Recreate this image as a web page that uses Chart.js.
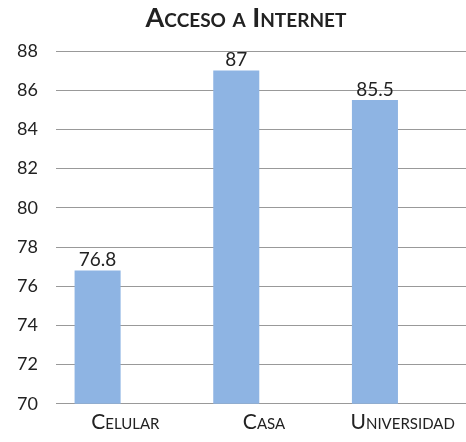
<!DOCTYPE html>
<html>
<head>
<meta charset="utf-8">
<script src="https://cdn.jsdelivr.net/npm/chart.js@4.4.0/dist/chart.umd.min.js"></script>
<style>
  html, body { margin: 0; padding: 0; overflow: hidden; background: #fff; }
</style>
</head>
<body>
<canvas id="chart1" width="472" height="442"></canvas>
<script>
var categories = ['Celular', 'Casa', 'Universidad'];
var accesoValues = [76.8, 87, 85.5];
var emptySeries = [null, null, null];
var yTicks = [70, 72, 74, 76, 78, 80, 82, 84, 86, 88];
var chartTitle = 'Acceso a Internet';

// labels above the bars
var valueLabels = {
    id: 'valueLabels',
    afterDatasetsDraw: function (chart) {
        var ctx = chart.ctx;
        var meta = chart.getDatasetMeta(0);
        ctx.save();
        ctx.font = '19px Lato';
        ctx.fillStyle = '#222';
        ctx.textAlign = 'center';
        ctx.textBaseline = 'bottom';
        meta.data.forEach(function (bar, i) {
            ctx.fillText(String(accesoValues[i]), bar.x, bar.y - 1);
        });
        ctx.restore();
    }
};

// small caps title
var smallCapsTitle = {
    id: 'smallCapsTitle',
    afterDraw: function (chart) {
        var ctx = chart.ctx;
        ctx.save();
        ctx.font = 'small-caps bold 27px Lato';
        ctx.fillStyle = '#222';
        ctx.textAlign = 'center';
        ctx.textBaseline = 'middle';
        ctx.fillText(chartTitle, 246, 18);
        ctx.restore();
    }
};

var ctx = document.getElementById('chart1').getContext('2d');
var myChart = new Chart(ctx, {
    type: 'bar',
    data: {
        labels: categories,
        datasets: [{
            label: 'Acceso',
            data: accesoValues,
            backgroundColor: '#8EB4E3',
            borderWidth: 0,
            categoryPercentage: 0.8,
            barPercentage: 0.83
        }, {
            label: '',
            data: emptySeries,
            backgroundColor: '#C0504D',
            categoryPercentage: 0.8,
            barPercentage: 0.83
        }]
    },
    options: {
        responsive: false,
        animation: false,
        layout: { padding: { top: 51, right: 0, bottom: 1, left: 0 } },
        plugins: {
            legend: { display: false },
            title: { display: false },
            tooltip: { enabled: false }
        },
        scales: {
            x: {
                grid: { display: false, drawTicks: false },
                border: { color: '#999', width: 1 },
                ticks: {
                    color: '#222',
                    padding: 6,
                    font: { family: 'Lato', size: 21, weight: 'small-caps 400' }
                }
            },
            y: {
                min: 70,
                max: 88,
                afterBuildTicks: function (scale) {
                    scale.ticks = yTicks.map(function (v) { return { value: v }; });
                },
                afterFit: function (scale) { scale.width = 56; },
                grid: { color: '#999', lineWidth: 1, drawTicks: false },
                border: { display: false },
                ticks: {
                    color: '#222',
                    padding: 18,
                    font: { family: 'Lato', size: 18 }
                }
            }
        }
    },
    plugins: [valueLabels, smallCapsTitle]
});
</script>
</body>
</html>
